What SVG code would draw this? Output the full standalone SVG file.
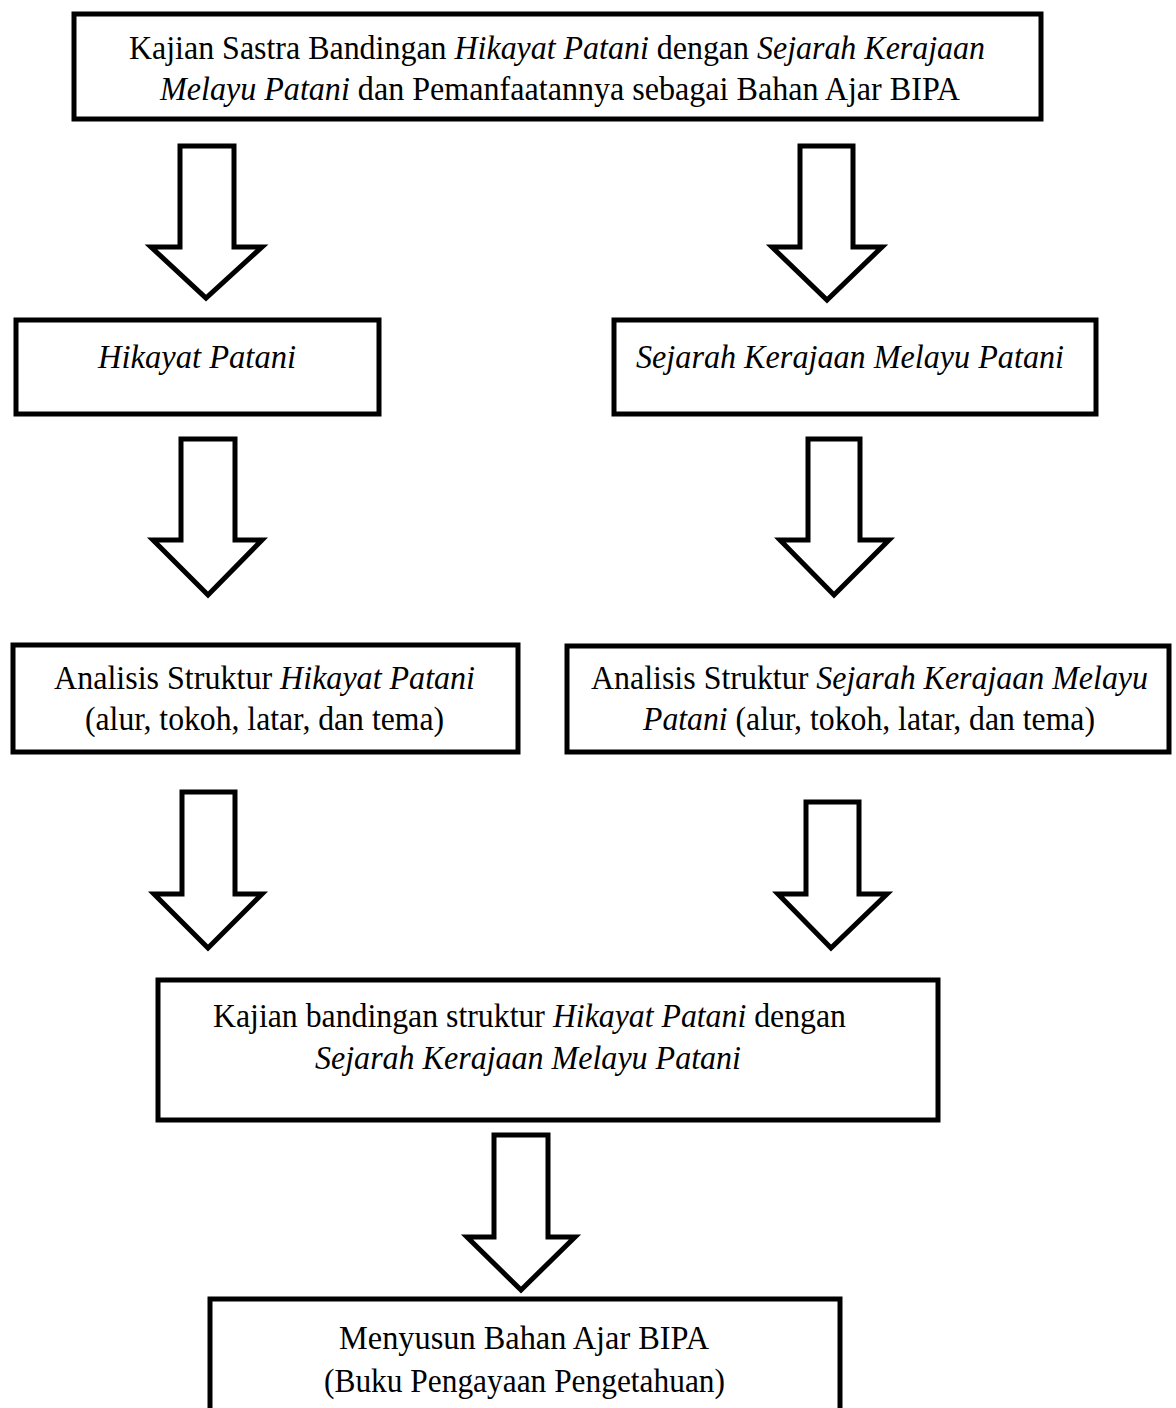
<svg xmlns="http://www.w3.org/2000/svg" width="1176" height="1408" viewBox="0 0 1176 1408">
<style>
.box{fill:#fff;stroke:#000;stroke-width:5}
.arr{fill:#fff;stroke:#000;stroke-width:5;stroke-linejoin:miter}
.t{font-family:'Liberation Serif','Times New Roman',Times,serif;font-size:33px;fill:#000}
.i{font-style:italic}
</style>
<rect width="1176" height="1408" fill="#fff"/>
<g id="connectors">
<polygon class="arr" points="180,146 234,146 234,247 262,247 206,298 151,247 180,247"/>
<polygon class="arr" points="800,146 853,146 853,247 882,247 827,300 772,247 800,247"/>
<polygon class="arr" points="181,439 235,439 235,540 262,540 208,595 153,540 181,540"/>
<polygon class="arr" points="808,439 860,439 860,540 889,540 834,595 780,540 808,540"/>
<polygon class="arr" points="182,792 235,792 235,894 262,894 208,948 154,894 182,894"/>
<polygon class="arr" points="806,802 859,802 859,894 887,894 831,948 778,894 806,894"/>
<polygon class="arr" points="494,1135 548,1135 548,1237 575,1237 521,1290 467,1237 494,1237"/>
</g>
<g id="n-top">
<rect class="box" x="74" y="14" width="967" height="105"/>
<text class="t" x="129" y="59" textLength="856" lengthAdjust="spacingAndGlyphs">Kajian Sastra Bandingan <tspan class="i">Hikayat Patani</tspan> dengan <tspan class="i">Sejarah Kerajaan</tspan></text>
<text class="t" x="160" y="100" textLength="800" lengthAdjust="spacingAndGlyphs"><tspan class="i">Melayu Patani</tspan> dan Pemanfaatannya sebagai Bahan Ajar BIPA</text>
</g>
<g id="n-hikayat">
<rect class="box" x="16" y="320" width="363" height="94"/>
<text class="t i" x="98" y="368" textLength="198" lengthAdjust="spacingAndGlyphs">Hikayat Patani</text>
</g>
<g id="n-sejarah">
<rect class="box" x="614" y="320" width="482" height="94"/>
<text class="t i" x="636" y="368" textLength="428" lengthAdjust="spacingAndGlyphs">Sejarah Kerajaan Melayu Patani</text>
</g>
<g id="n-analisis-hikayat">
<rect class="box" x="13" y="645" width="505" height="107"/>
<text class="t" x="54" y="689" textLength="421" lengthAdjust="spacingAndGlyphs">Analisis Struktur <tspan class="i">Hikayat Patani</tspan></text>
<text class="t" x="85" y="730" textLength="359" lengthAdjust="spacingAndGlyphs">(alur, tokoh, latar, dan tema)</text>
</g>
<g id="n-analisis-sejarah">
<rect class="box" x="567" y="646" width="602" height="106"/>
<text class="t" x="591" y="689" textLength="557" lengthAdjust="spacingAndGlyphs">Analisis Struktur <tspan class="i">Sejarah Kerajaan Melayu</tspan></text>
<text class="t" x="643" y="730" textLength="452" lengthAdjust="spacingAndGlyphs"><tspan class="i">Patani</tspan> (alur, tokoh, latar, dan tema)</text>
</g>
<g id="n-kajian">
<rect class="box" x="158" y="980" width="780" height="140"/>
<text class="t" x="213" y="1027" textLength="633" lengthAdjust="spacingAndGlyphs">Kajian bandingan struktur <tspan class="i">Hikayat Patani</tspan> dengan</text>
<text class="t i" x="315" y="1069" textLength="426" lengthAdjust="spacingAndGlyphs">Sejarah Kerajaan Melayu Patani</text>
</g>
<g id="n-menyusun">
<rect class="box" x="210" y="1299" width="630" height="130"/>
<text class="t" x="339" y="1349" textLength="370" lengthAdjust="spacingAndGlyphs">Menyusun Bahan Ajar BIPA</text>
<text class="t" x="324" y="1392" textLength="401" lengthAdjust="spacingAndGlyphs">(Buku Pengayaan Pengetahuan)</text>
</g>
</svg>
